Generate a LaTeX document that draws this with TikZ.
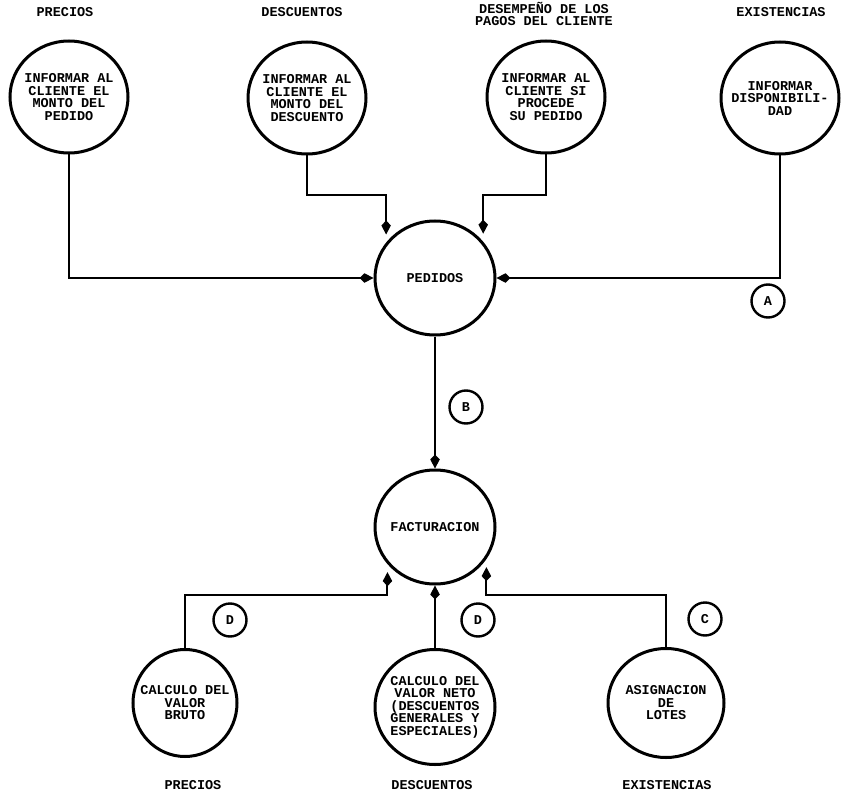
\documentclass[tikz,border=0pt]{standalone}
\usepackage{fontspec}
\setmainfont{Liberation Mono}
\usetikzlibrary{arrows.meta,shapes.geometric}
\tikzset{
  bubble/.style={ellipse, draw, line width=3pt, inner xsep=-40pt, inner ysep=-30pt,
    minimum width=118pt, minimum height=112pt, align=center,
    font=\fontsize{13.5}{12.5}\selectfont\bfseries},
  tag/.style={font=\fontsize{13.5}{12.5}\selectfont\bfseries, align=center},
  badge/.style={circle, draw, line width=2.4pt, minimum size=33pt, inner sep=0pt,
    font=\fontsize{13.5}{12.5}\selectfont\bfseries},
  flow/.style={line width=2pt, -{Kite[length=14pt,width=9.5pt,inset=5pt]}},
  gap/.style={shorten >=8pt},
}
\begin{document}
\begin{tikzpicture}[x=1pt,y=-1pt]
\useasboundingbox (0,0) rectangle (841,797);

% top row of processes and their data sources
\node[tag] (t1) at (65,12) {PRECIOS};
\node[tag] (t2) at (302,12) {DESCUENTOS};
\node[tag] (t3) at (544,14) {DESEMPEÑO DE LOS\\PAGOS DEL CLIENTE};
\node[tag] (t4) at (781,12) {EXISTENCIAS};

\node[bubble] (c1) at (69,97) {INFORMAR AL\\CLIENTE EL\\MONTO DEL\\PEDIDO};
\node[bubble] (c2) at (307,98) {INFORMAR AL\\CLIENTE EL\\MONTO DEL\\DESCUENTO};
\node[bubble] (c3) at (546,97) {INFORMAR AL\\CLIENTE SI\\PROCEDE\\SU PEDIDO};
\node[bubble] (c4) at (780,98) {INFORMAR\\DISPONIBILI-\\DAD};

% central processes
\node[bubble, minimum width=120pt, minimum height=114pt] (ped) at (435,278) {PEDIDOS};
\node[bubble, minimum width=120pt, minimum height=114pt] (fac) at (435,527) {FACTURACION};

% bottom row of processes and their data sources
\node[bubble, minimum width=104pt, minimum height=107pt] (b1) at (185,703) {CALCULO DEL\\VALOR\\BRUTO};
\node[bubble, minimum width=120pt, minimum height=115pt] (b2) at (435,707) {CALCULO DEL\\VALOR NETO\\(DESCUENTOS\\GENERALES Y\\ESPECIALES)};
\node[bubble, minimum width=116pt, minimum height=109pt] (b3) at (666,703) {ASIGNACION\\DE\\LOTES};

\node[tag] (s1) at (193,785) {PRECIOS};
\node[tag] (s2) at (432,785) {DESCUENTOS};
\node[tag] (s3) at (667,785) {EXISTENCIAS};

% circled references
\node[badge] (ba) at (768,301) {A};
\node[badge] (bb) at (466,407) {B};
\node[badge] (bd1) at (230,620) {D};
\node[badge] (bd2) at (478,620) {D};
\node[badge] (bc) at (705,619) {C};

% junction levels
\coordinate (jt) at (0,195);
\coordinate (jb) at (0,595);

% flows into PEDIDOS
\draw[flow] (c1.south) |- (ped.west);
\draw[flow, gap] (c2.south) -- (c2.south |- jt) -| (ped.144);
\draw[flow, gap] (c3.south) -- (c3.south |- jt) -| (ped.37);
\draw[flow] (c4.south) |- (ped.east);

% PEDIDOS to FACTURACION
\draw[flow] (ped.south) -- (fac.north);

% flows into FACTURACION
\draw[flow, gap] (b1.north) -- (b1.north |- jb) -| (fac.218);
\draw[flow] (b2.north) -- (fac.south);
\draw[flow, gap] (b3.north) -- (b3.north |- jb) -| (fac.328);
\end{tikzpicture}
\end{document}
